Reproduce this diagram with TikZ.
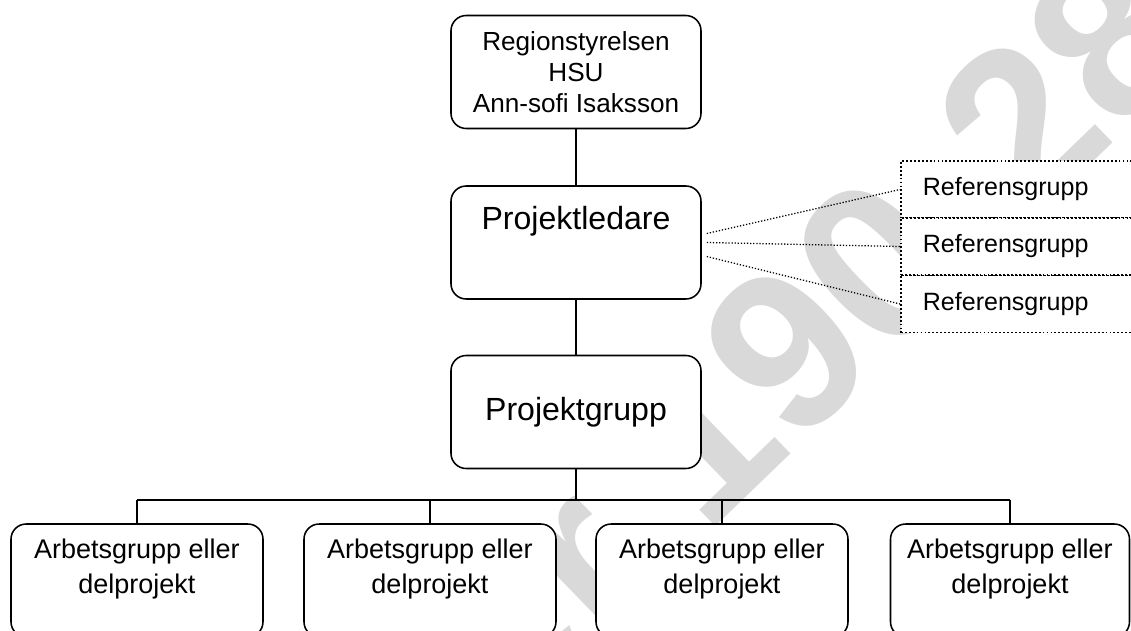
\documentclass[tikz,border=0pt]{standalone}
\usepackage{fontspec}
\setmainfont{Liberation Sans}
\usepackage{xcolor}
\usetikzlibrary{positioning}

\begin{document}
\begin{tikzpicture}[x=0.25mm,y=-0.25mm,
  orgbox/.style={draw,fill=white,line width=1.1pt,rounded corners=3.8mm,minimum width=62.5mm,
    minimum height=28.25mm,inner sep=0pt,align=center},
  topbox/.style={orgbox,font=\fontsize{18.6}{22}\selectfont},
  leadbox/.style={orgbox,font=\fontsize{22.8}{26}\selectfont},
  subbox/.style={orgbox,minimum width=63mm,font=\fontsize{19.2}{24.9}\selectfont},
  refbox/.style={draw,fill=white,line width=1.3pt,dash pattern=on 1.3pt off 1.5pt,anchor=west,
    minimum height=14.25mm,text width=60mm,inner xsep=5.5mm,inner ysep=0pt,align=left,
    font=\fontsize{17.8}{20}\selectfont},
  trunk/.style={line width=1.6pt},
  branch/.style={line width=1.2pt},
  refline/.style={line width=0.9pt,dash pattern=on 0.9pt off 1.3pt},
  wmark/.style={rotate=44,text=black!15,font=\bfseries\fontsize{160}{160}\selectfont,inner sep=0pt}]
\useasboundingbox (0,0) rectangle (1131,630);
\clip (0,0) rectangle (1131,630);

% watermark
\node[wmark] (wm) at (805,333) {er 190-28};

% main chain
\node[topbox] (tb) at (576,72) {Regionstyrelsen\\HSU\\Ann-sofi Isaksson};
\node[leadbox,text height=6mm,text depth=12.75mm] (pl) at (576,242.5) {Projektledare};
\node[leadbox] (pg) at (576,412) {Projektgrupp};

\draw[trunk] (tb) -- (pl);
\draw[trunk] (pl) -- (pg);

% reference groups
\node[refbox] (ref1) at (900,189.5) {Referensgrupp};
\node[refbox] (ref2) at (900,246.5) {Referensgrupp};
\node[refbox] (ref3) at (900,304) {Referensgrupp};

\draw[refline] ([shift={(5,-9)}]pl.east) -- (ref1.west);
\draw[refline] ([xshift=1.25mm]pl.east) -- (ref2.west);
\draw[refline] ([shift={(5,14)}]pl.east) -- (ref3.west);

% working groups
\node[subbox] (a1) at (137,580.5) {Arbetsgrupp eller\\delprojekt\\[-1.5mm]};
\node[subbox] (a2) at (430,580.5) {Arbetsgrupp eller\\delprojekt\\[-1.5mm]};
\node[subbox] (a3) at (722,580.5) {Arbetsgrupp eller\\delprojekt\\[-1.5mm]};
\node[subbox,minimum width=59.75mm] (a4) at (1010,580.5) {Arbetsgrupp eller\\delprojekt\\[-1.5mm]};

\coordinate (bus) at (576,500);
\draw[trunk] (pg) -- (bus);
\draw[branch] (a1.north |- bus) -- (a4.north |- bus);
\foreach \n in {a1,a2,a3,a4}
  \draw[branch] (\n.north) -- (\n.north |- bus);
\end{tikzpicture}
\end{document}
